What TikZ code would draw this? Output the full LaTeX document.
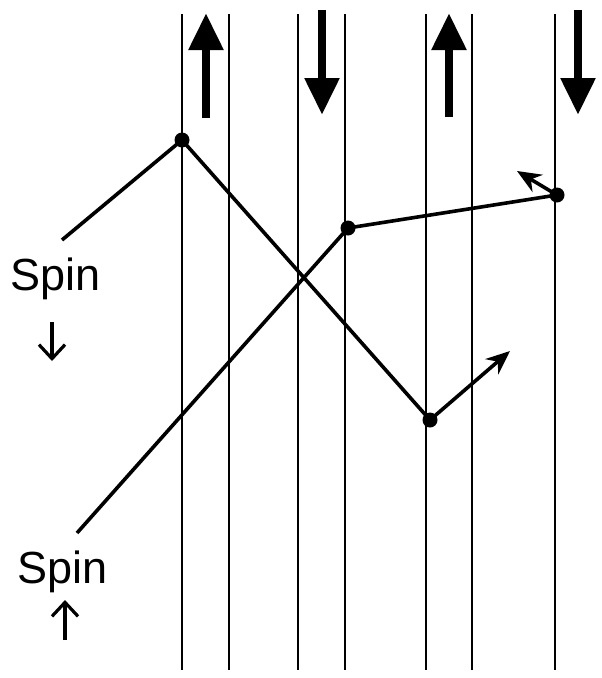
\documentclass[tikz,border=0pt]{standalone}
\usepackage{fontspec}
\setmainfont{Liberation Sans}
\usetikzlibrary{arrows.meta}

\begin{document}
\begin{tikzpicture}[x=1pt, y=-1pt,
    wall/.style={line width=1.7pt},
    moment/.style={line width=8.5pt, -{Triangle[length=37pt, width=33pt]}},
    path/.style={line width=3.6pt, line join=round},
    kick/.style={line width=3.6pt, -{Stealth[length=24pt, width=20pt]}},
    dot/.style={circle, fill, inner sep=0pt, minimum size=15pt},
    label/.style={font=\fontsize{45}{45}\selectfont, anchor=base west, inner sep=0pt},
    spinarr/.style={line width=3.2pt, -{Straight Barb[length=14pt, width=26pt]}}
  ]
  \useasboundingbox (0,0) rectangle (602,678);

  % layer boundaries
  \foreach \x in {182, 229, 298, 345, 426, 472, 555}
    \draw[wall] (\x, 14) -- (\x, 670);

  % magnetisation of the layers
  \draw[moment] (206, 118) -- (206, 13);
  \draw[moment] (322, 10) -- (322, 115);
  \draw[moment] (449, 117) -- (449, 13);
  \draw[moment] (578, 10) -- (578, 115);

  % spin down electron
  \node[label] (sdn) at (10, 290) {Spin};
  \coordinate (sdn0) at (62, 240);
  \coordinate (sdnA) at (52, 322);
  \coordinate (sdnB) at (52, 361);
  \draw[spinarr] (sdnA) -- (sdnB);
  \node[dot] (d1) at (182, 140) {};
  \node[dot] (d2) at (430, 420) {};
  \coordinate (dout) at (510, 351);
  \draw[path] (sdn0) -- (d1.center) -- (d2.center);
  \draw[kick] (d2.center) -- (dout);

  % spin up electron
  \node[label] (sup) at (17, 583) {Spin};
  \coordinate (sup0) at (77, 533);
  \coordinate (supA) at (65, 640);
  \coordinate (supB) at (65, 600);
  \draw[spinarr] (supA) -- (supB);
  \node[dot] (u1) at (348, 228) {};
  \node[dot] (u2) at (557, 195) {};
  \coordinate (uout) at (517, 171);
  \draw[path] (sup0) -- (u1.center) -- (u2.center);
  \draw[kick] (u2.center) -- (uout);
\end{tikzpicture}
\end{document}
